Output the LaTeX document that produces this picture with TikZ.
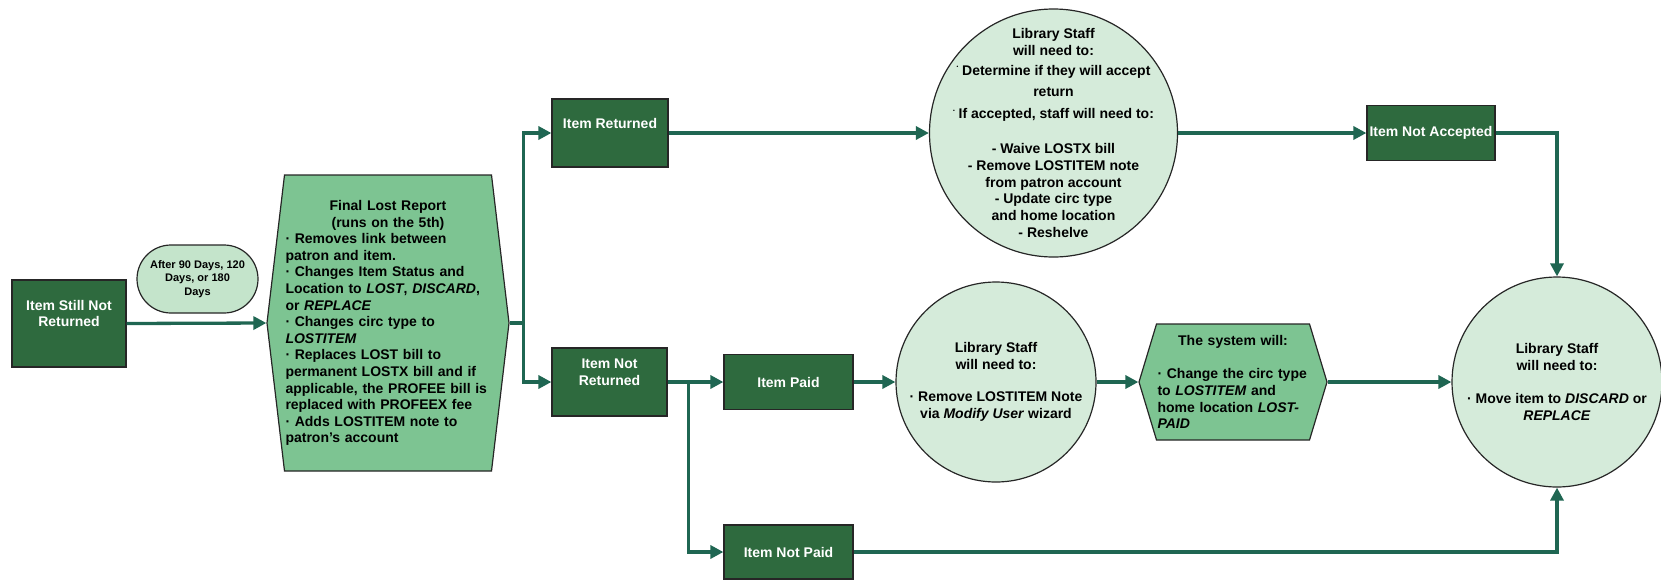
\documentclass[tikz,border=0pt]{standalone}
\usepackage{fontspec}
\setmainfont{Liberation Sans}
\usetikzlibrary{shapes.symbols,arrows.meta,positioning}

\definecolor{boxgreen}{HTML}{2E6A3E}
\definecolor{linegreen}{HTML}{1F6652}
\definecolor{palegreen}{HTML}{D5EBDA}
\definecolor{midgreen}{HTML}{7DC492}
\definecolor{ovalgreen}{HTML}{C4E4CB}

\newcommand{\padbelow}[1]{\rule[-#1]{0pt}{#1}}
\newcommand{\dotbul}{\raisebox{.45em}{\tiny\textbullet}}

\tikzset{
  itembox/.style={rectangle, draw=black!85, line width=1.2pt, fill=boxgreen, text=white, align=center, inner sep=2pt, font=\fontsize{14}{16.6}\selectfont\bfseries},
  staffcircle/.style={circle, draw=black!85, line width=1.2pt, fill=palegreen, inner sep=0pt},
  stafftext/.style={align=center, inner sep=0pt, font=\fontsize{14}{16.8}\selectfont\bfseries},
  hexbox/.style={signal, signal to=west and east, draw=black!85, line width=1.2pt, fill=midgreen, inner xsep=1pt, inner ysep=0pt, align=left, font=\fontsize{14}{16.6}\selectfont\bfseries},
  flow/.style={draw=linegreen, line width=3.3pt, -{Triangle[length=13pt,width=13pt]}},
}

\begin{document}
\begin{tikzpicture}[x=1pt, y=-1pt]
\useasboundingbox (0,0) rectangle (1661,579);

% boxes
\node[itembox, minimum width=114pt, minimum height=87pt] (stillnot) at (69,323.5) {Item Still Not\\Returned\padbelow{20pt}};
\node[itembox, minimum width=116pt, minimum height=68pt] (returned) at (610,133) {Item Returned\padbelow{20pt}};
\node[itembox, minimum width=115pt, minimum height=68pt] (notreturned) at (609.5,382) {Item Not\\Returned\padbelow{20pt}};
\node[itembox, minimum width=129pt, minimum height=55pt] (paid) at (788.5,382) {Item Paid};
\node[itembox, minimum width=129pt, minimum height=54pt] (notpaid) at (788.5,552) {Item Not Paid};
\node[itembox, minimum width=128pt, minimum height=55pt] (notaccepted) at (1431,133) {Item Not Accepted};

% after days
\node[draw=black!85, line width=1.2pt, fill=ovalgreen, rounded corners=34pt, minimum width=121pt, minimum height=68pt, align=center, font=\fontsize{11}{13.5}\selectfont\bfseries] (afterdays) at (197.5,279) {After 90 Days, 120\\Days, or 180\\Days};

% hexagons
\node[hexbox, text width=205pt, minimum height=296pt, signal pointer angle=166.5] (report) at (388,323) {%
\makebox[\hsize]{Final Lost Report}\\
\makebox[\hsize]{(runs on the 5th)}\\
· Removes link between\\
patron and item.\\
· Changes Item Status and\\
Location to \textit{LOST}, \textit{DISCARD},\\
or \textit{REPLACE}\\
· Changes circ type to\\
\textit{LOSTITEM}\\
· Replaces LOST bill to\\
permanent LOSTX bill and if\\
applicable, the PROFEE bill is\\
replaced with PROFEEX fee\\
· Adds LOSTITEM note to\\
patron’s account};
\node[hexbox, text width=151pt, minimum height=116pt, signal pointer angle=146.4] (system) at (1233,382) {%
\makebox[\hsize]{The system will:}\\[17pt]
· Change the circ type\\
to \textit{LOSTITEM} and\\
home location \textit{LOST-}\\
\textit{PAID}};

% circles
\node[staffcircle, minimum size=248pt, label={[stafftext]center:{Library Staff\\
will need to:\\[3pt]
\dotbul\ Determine if they will accept\\[5pt]
return\\[5pt]
\dotbul\ If accepted, staff will need to:\\[18pt]
- Waive LOSTX bill\\
- Remove LOSTITEM note\\
from patron account\\
- Update circ type\\
and home location\\
- Reshelve}}] (staffa) at (1053.5,133) {};
\node[staffcircle, minimum size=200pt, label={[stafftext]center:{Library Staff\\
will need to:\\[15pt]
· Remove LOSTITEM Note\\
via \textit{Modify User} wizard}}] (staffb) at (996,382) {};
\node[staffcircle, minimum size=210pt, label={[stafftext]center:{Library Staff\\
will need to:\\[17pt]
· Move item to \textit{DISCARD} or\\
\textit{REPLACE}}}] (staffc) at (1557,382) {};

% connectors
\coordinate (fork) at ([xshift=14pt]report.east);
\coordinate (forkb) at ([xshift=21pt]notreturned.east);
\draw[flow] (stillnot.east) -- (report.west);
\draw[flow] (report.east) -- (fork) |- (returned.west);
\draw[flow] (fork) |- (notreturned.west);
\draw[flow] (returned.east) -- (staffa.west);
\draw[flow] (staffa.east) -- (notaccepted.west);
\draw[flow] (notaccepted.east) -| (staffc.north);
\draw[flow] (notreturned.east) -- (paid.west);
\draw[flow] (forkb) |- (notpaid.west);
\draw[flow] (paid.east) -- (staffb.west);
\draw[flow] (staffb.east) -- (system.west);
\draw[flow] (system.east) -- (staffc.west);
\draw[flow] (notpaid.east) -| (staffc.south);

\end{tikzpicture}
\end{document}
